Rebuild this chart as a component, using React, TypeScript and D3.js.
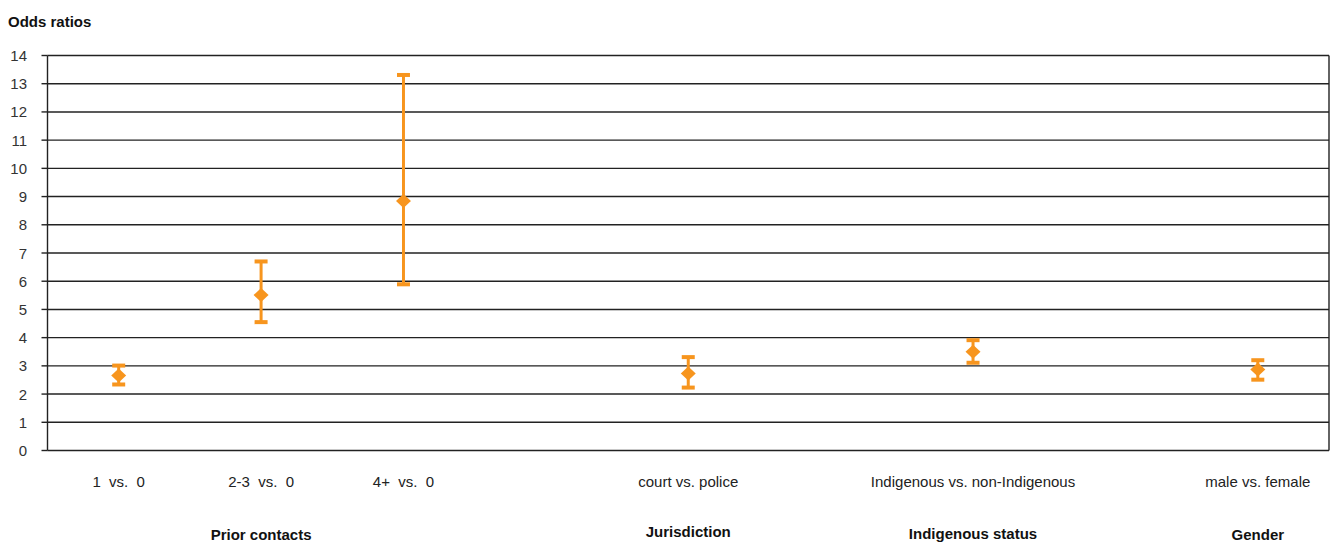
import React from "react";
import * as d3 from "d3";

const categories = ["1  vs.  0", "2-3  vs.  0", "4+  vs.  0", "", "court vs. police", "", "Indigenous vs. non-Indigenous", "", "male vs. female"];
const slots = ["c0", "c1", "c2", "c3", "c4", "c5", "c6", "c7", "c8"];
const pointSlots = ["c0", "c1", "c2", "c4", "c6", "c8"];
const estimates = [2.66, 5.51, 8.84, 2.73, 3.5, 2.87];
const lower = [2.34, 4.55, 5.89, 2.23, 3.11, 2.51];
const upper = [3.01, 6.7, 13.31, 3.31, 3.91, 3.2];
const groupLabels = ["Prior contacts", "Jurisdiction", "Indigenous status", "Gender"];
const groupSlots = ["c1", "c4", "c6", "c8"];
const groupBaselines = [540, 537, 539, 540];
const yTicks = d3.range(0, 15);

const W = 1335;
const H = 544;
const left = 47.5;
const right = 1329;
const top = 55.5;
const bottom = 450.5;
const orange = "#F7951E";
const font = "'Liberation Sans', Arial, sans-serif";

export default function App() {
  const x = d3.scaleBand().domain(slots).range([left, right]);
  const y = d3.scaleLinear().domain([0, 14]).range([bottom, top]);
  const cx = (s: string) => (x(s) as number) + x.bandwidth() / 2;
  const dw = 7.5;
  const dh = 7;
  const diamond = d3.line()([[0, -dh], [dw, 0], [0, dh], [-dw, 0]]) + "Z";

  return (
    <svg width={W} height={H} style={{ position: "absolute", left: 0, top: 0, background: "#fff" }} fontFamily={font}>
      <text x={8} y={27} fontSize={15} fontWeight="bold" fill="#111">Odds ratios</text>
      {yTicks.map((t) => (
        <g key={t}>
          <line x1={left} x2={right} y1={y(t)} y2={y(t)} stroke="#222" strokeWidth={1.4} />
          <line x1={left - 6} x2={left} y1={y(t)} y2={y(t)} stroke="#222" strokeWidth={1.4} />
          <text x={27} y={y(t) + 5.5} textAnchor="end" fontSize={15} fill="#333">{t}</text>
        </g>
      ))}
      <line x1={left} x2={left} y1={top} y2={bottom} stroke="#222" strokeWidth={1.4} />
      <line x1={right} x2={right} y1={top} y2={bottom} stroke="#222" strokeWidth={1.4} />
      {categories.map((c, i) =>
        c ? (
          <text key={i} x={cx(slots[i])} y={487} textAnchor="middle" fontSize={15} fill="#222" style={{ whiteSpace: "pre" }}>{c}</text>
        ) : null
      )}
      {groupLabels.map((g, i) => (
        <text key={g} x={cx(groupSlots[i])} y={groupBaselines[i]} textAnchor="middle" fontSize={15} fontWeight="bold" fill="#111">{g}</text>
      ))}
      {pointSlots.map((s, i) => {
        const px = cx(s);
        return (
          <g key={s}>
            <line x1={px} x2={px} y1={y(lower[i])} y2={y(upper[i])} stroke={orange} strokeWidth={3} />
            <line x1={px - 6.5} x2={px + 6.5} y1={y(lower[i])} y2={y(lower[i])} stroke={orange} strokeWidth={4} />
            <line x1={px - 6.5} x2={px + 6.5} y1={y(upper[i])} y2={y(upper[i])} stroke={orange} strokeWidth={4} />
            <path d={diamond} transform={`translate(${px},${y(estimates[i])})`} fill={orange} />
          </g>
        );
      })}
    </svg>
  );
}
